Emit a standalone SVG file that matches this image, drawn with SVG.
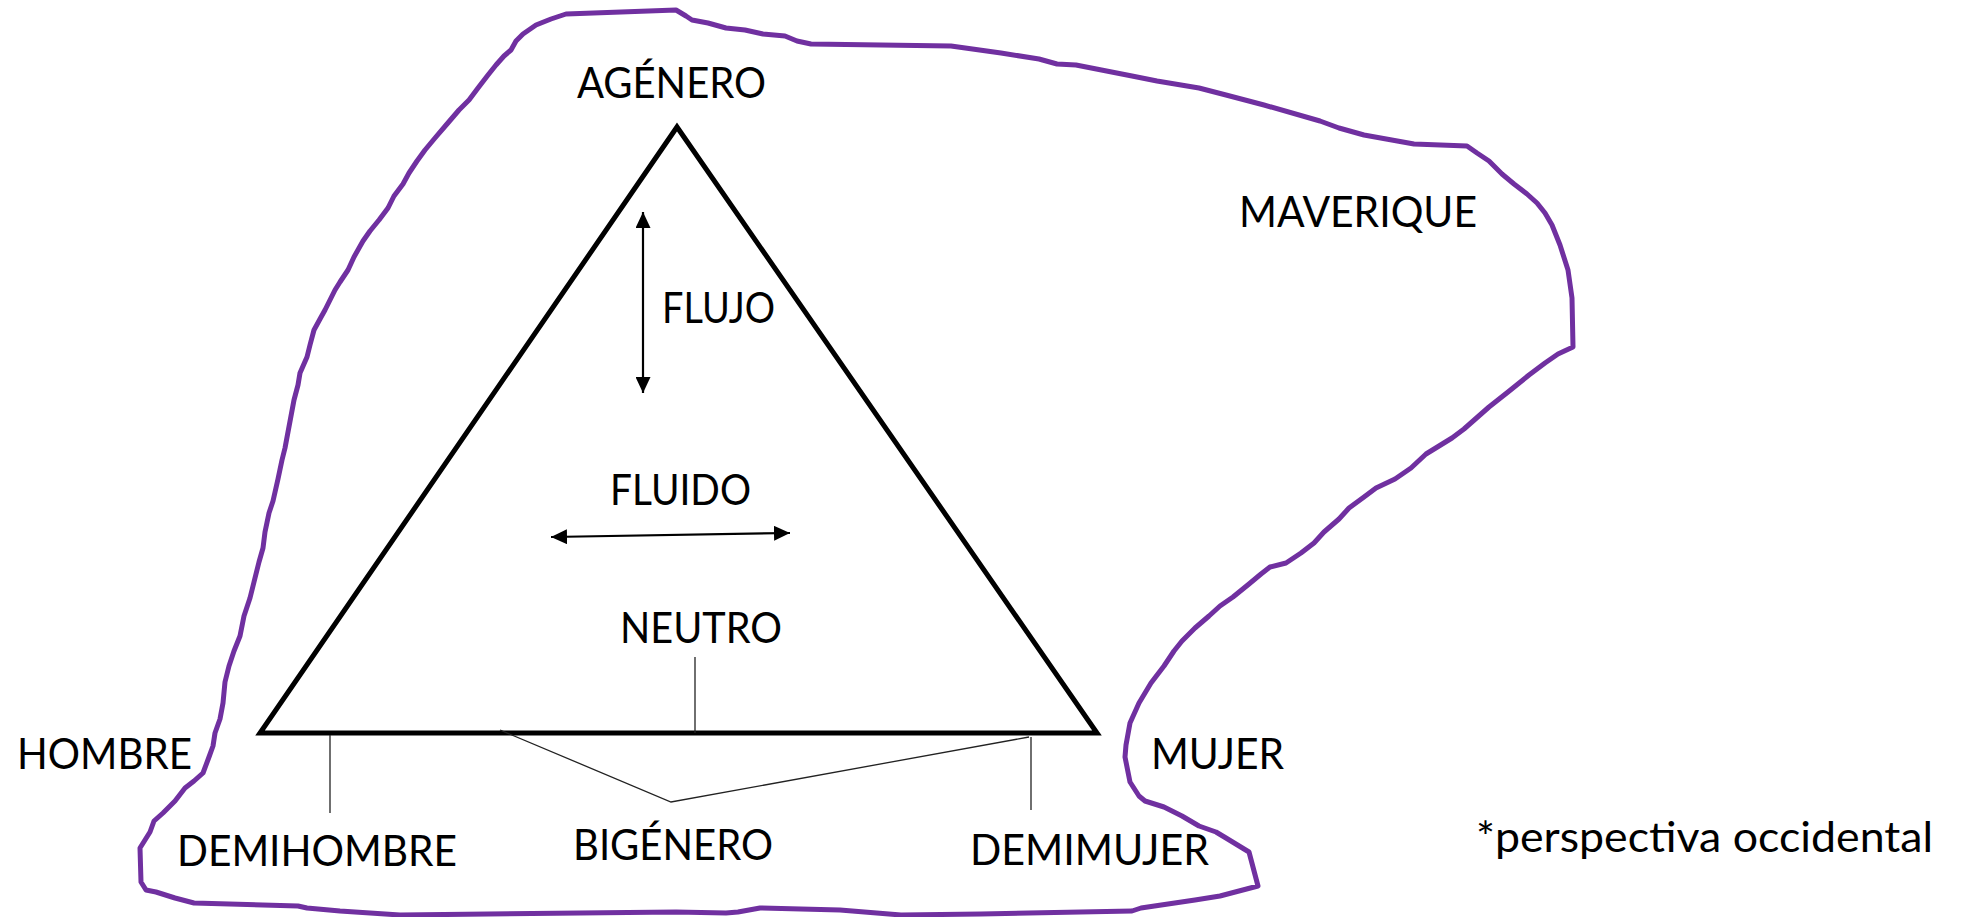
<svg xmlns="http://www.w3.org/2000/svg" width="1962" height="917" viewBox="0 0 1962 917">
<style>
.lbl{font-family:Lato,"Open Sans","Liberation Sans",sans-serif;font-size:42px;fill:#000}
.thin{stroke:#222;stroke-width:1.3;fill:none}
.arr{stroke:#000;stroke-width:2.2;fill:none}
</style>
<defs>
<marker id="ah" viewBox="0 0 16 15" refX="16" refY="7.5" markerWidth="16" markerHeight="15" markerUnits="userSpaceOnUse" orient="auto-start-reverse">
<path d="M0,0 L16,7.5 L0,15 z" fill="#000"/>
</marker>
</defs>
<rect width="1962" height="917" fill="#fff"/>
<g id="maverique-outline">
<path fill="none" stroke="#7030A0" stroke-width="5" stroke-linejoin="round" d="M566,14 L676,10 L686,16 L692,20 L708,23 L726,28 L745,30 L763,34 L785,36 L797,41 L811,44 L951,46 L1001,53 L1039,59 L1057,64 L1076,65 L1132,76 L1157,81 L1199,88 L1226,95 L1264,105 L1320,121 L1339,128 L1364,135 L1414,144 L1467,146 L1477,153 L1489,161 L1502,174 L1514,184 L1527,194 L1537,203 L1545,213 L1552,225 L1560,245 L1568,270 L1572,298 L1573,347 L1558,354 L1545,363 L1529,375 L1508,392 L1489,407 L1464,429 L1452,438 L1426,454 L1411,468 L1395,479 L1376,488 L1364,497 L1349,508 L1339,519 L1324,532 L1314,543 L1301,553 L1286,563 L1270,567 L1261,574 L1249,584 L1233,597 L1220,606 L1209,616 L1195,628 L1182,641 L1174,651 L1164,666 L1151,683 L1139,703 L1130,723 L1126,745 L1125,757 L1130,782 L1139,796 L1145,801 L1164,807 L1182,816 L1199,826 L1216,832 L1226,838 L1249,852 L1258,886 L1220,896 L1195,900 L1141,908 L1132,911 L981,914 L901,915 L840,910 L760,908 L738,912 L726,913 L676,912 L400,915 L340,911 L307,908 L298,906 L194,903 L175,898 L156,892 L146,890 L141,882 L140,848 L150,832 L154,821 L163,813 L175,801 L185,788 L194,781 L203,773 L209,757 L213,746 L215,733 L220,719 L223,703 L225,682 L229,666 L234,651 L240,636 L244,616 L250,598 L254,582 L259,562 L263,548 L265,532 L269,513 L273,501 L278,479 L282,460 L285,448 L288,432 L294,400 L298,385 L300,373 L307,357 L310,345 L314,330 L320,319 L325,310 L330,300 L335,290 L340,282 L348,270 L354,257 L363,241 L370,231 L379,220 L388,208 L394,196 L403,184 L409,173 L417,161 L425,150 L435,138 L447,124 L459,110 L469,100 L478,88 L488,75 L496,65 L504,56 L511,50 L516,41 L523,34 L536,25 L551,19 Z"/>
</g>
<g id="triangle">
<path d="M677,127 L1097,733 L260,733 Z" fill="none" stroke="#000" stroke-width="5" stroke-linejoin="miter"/>
</g>
<g id="connectors">
<line class="arr" x1="643" y1="212" x2="643" y2="393" marker-start="url(#ah)" marker-end="url(#ah)"/>
<line class="arr" x1="551" y1="537" x2="790" y2="533" marker-start="url(#ah)" marker-end="url(#ah)"/>
<line class="thin" x1="695" y1="657" x2="695" y2="733"/>
<line class="thin" x1="330" y1="735" x2="330" y2="813"/>
<line class="thin" x1="1031" y1="737" x2="1031" y2="810"/>
<polyline class="thin" points="500,730 671,802 1029,737"/>
</g>
<g id="agenero"><text class="lbl" x="577" y="98" textLength="189" lengthAdjust="spacingAndGlyphs">AGÉNERO</text></g>
<g id="flujo"><text class="lbl" x="662" y="323" textLength="113" lengthAdjust="spacingAndGlyphs">FLUJO</text></g>
<g id="maverique"><text class="lbl" x="1239" y="227" textLength="238" lengthAdjust="spacingAndGlyphs">MAVERIQUE</text></g>
<g id="fluido"><text class="lbl" x="610" y="505" textLength="141" lengthAdjust="spacingAndGlyphs">FLUIDO</text></g>
<g id="neutro"><text class="lbl" x="620" y="643" textLength="162" lengthAdjust="spacingAndGlyphs">NEUTRO</text></g>
<g id="hombre"><text class="lbl" x="17" y="769" textLength="175" lengthAdjust="spacingAndGlyphs">HOMBRE</text></g>
<g id="mujer"><text class="lbl" x="1151" y="769" textLength="133" lengthAdjust="spacingAndGlyphs">MUJER</text></g>
<g id="demihombre"><text class="lbl" x="177" y="866" textLength="280" lengthAdjust="spacingAndGlyphs">DEMIHOMBRE</text></g>
<g id="bigenero"><text class="lbl" x="573" y="860" textLength="200" lengthAdjust="spacingAndGlyphs">BIGÉNERO</text></g>
<g id="demimujer"><text class="lbl" x="970" y="865" textLength="239" lengthAdjust="spacingAndGlyphs">DEMIMUJER</text></g>
<g id="note"><text class="lbl" x="1476" y="852" textLength="457" lengthAdjust="spacingAndGlyphs">*perspectiva occidental</text></g>
</svg>
